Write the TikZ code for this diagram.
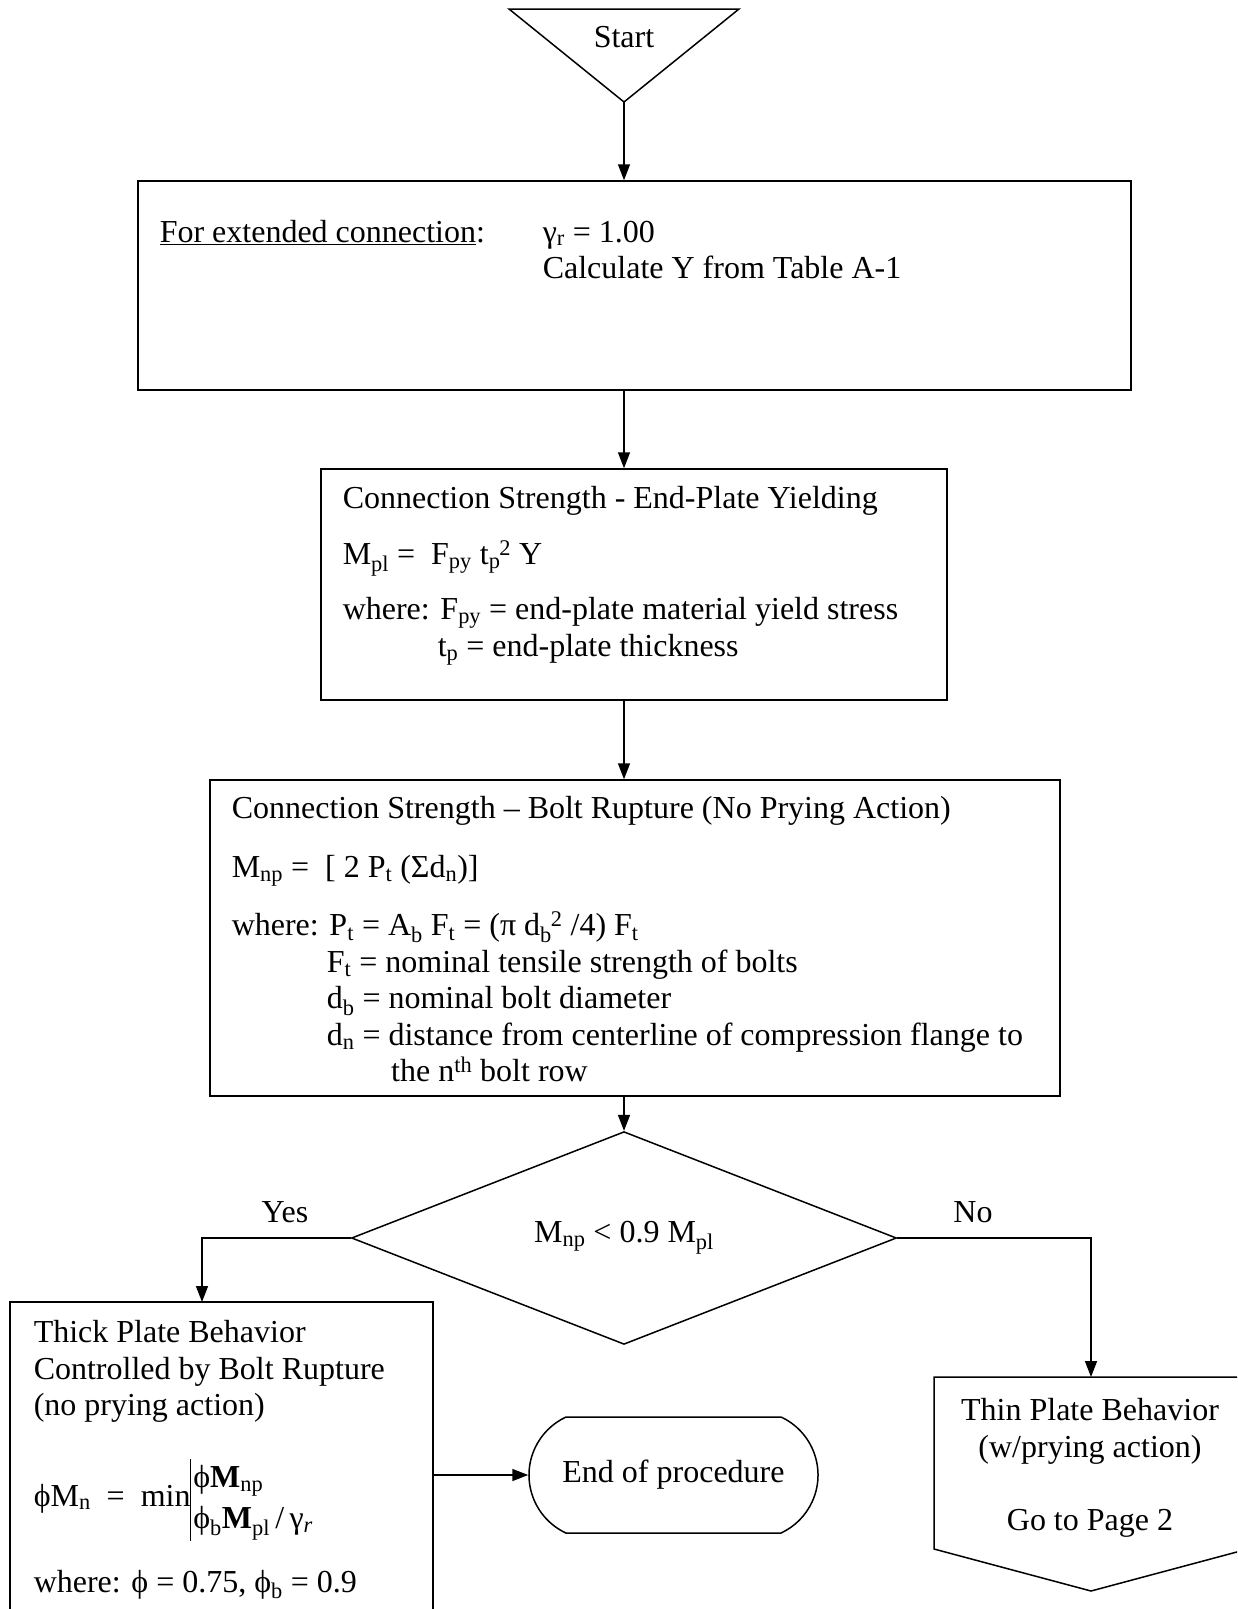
\documentclass[tikz,border=0pt]{standalone}
\usepackage{fontspec}
\setmainfont{Liberation Serif}
\usetikzlibrary{shapes.geometric, shapes.misc, positioning, arrows.meta}
\setlength{\arrayrulewidth}{1.5pt}
\newcommand{\tsubsup}[2]{\textsubscript{#1}\kern-1pt\textsuperscript{#2}}

\begin{document}
\begin{tikzpicture}[
    x=1pt, y=1pt,
    line width=1.5pt,
    font=\fontsize{32}{36.5}\selectfont,
    box/.style={draw, rectangle, inner sep=0pt},
    txt/.style={inner sep=0pt, align=left, anchor=north west},
    decision/.style={draw, diamond, inner sep=0pt, minimum width=545pt, minimum height=190pt},
    terminal/.style={draw, rounded rectangle, rounded rectangle arc length=130, inner sep=0pt, minimum width=289pt, minimum height=116pt},
    arr/.style={-{Triangle[length=16pt, width=12pt]}}
]
    \clip (0,0) rectangle (1237,-1609);

    % Start
    \draw (509,-9) -- (739,-9) -- (624,-102) -- cycle;
    \coordinate (startapex) at (624,-102);
    \node[anchor=base] (start) at (624,-47) {Start};

    % Boxes
    \node[box, minimum width=993pt, minimum height=209pt] (ext) at (634.5,-285.5) {};
    \node[txt] (extlabel) at (159,-220) {\underline{For extended connection}:};
    \node[txt] (extval) at (542,-220) {γ\textsubscript{r} = 1.00\\Calculate Y from Table A-1};

    \node[box, minimum width=626pt, minimum height=231pt] (yield) at (634,-584.5) {};
    \node[txt] (yieldtxt) at (342,-486) {Connection Strength - End-Plate Yielding\\[19pt]
        M\textsubscript{pl} =~ F\textsubscript{py} t\tsubsup{p}{2} Y\\[19pt]
        where: F\textsubscript{py} = end-plate material yield stress\\
        \phantom{where:} t\textsubscript{p} = end-plate thickness};

    \node[box, minimum width=850pt, minimum height=316pt] (rupt) at (635,-938) {};
    \node[txt] (rupttxt) at (231,-796) {Connection Strength – Bolt Rupture (No Prying Action)\\[22pt]
        M\textsubscript{np} =~ [ 2 P\textsubscript{t} (Σd\textsubscript{n})]\\[22pt]
        where: P\textsubscript{t} = A\textsubscript{b} F\textsubscript{t} = (π d\tsubsup{b}{2} /4) F\textsubscript{t}\\
        \phantom{where:} F\textsubscript{t} = nominal tensile strength of bolts\\
        \phantom{where:} d\textsubscript{b} = nominal bolt diameter\\
        \phantom{where:} d\textsubscript{n} = distance from centerline of compression flange to\\
        \phantom{where: d\textsubscript{n} =} the n\textsuperscript{th} bolt row};

    % Decision
    \node[decision] (dec) at (624,-1238) {M\textsubscript{np} < 0.9 M\textsubscript{pl}};
    \node[anchor=base] (yes) at (285,-1222) {Yes};
    \node[anchor=base] (no) at (973,-1222) {No};

    % Thick plate
    \node[box, minimum width=423pt, minimum height=400pt] (thick) at (221.5,-1502) {};
    \node[txt] (thicktxt) at (33,-1320) {Thick Plate Behavior\\Controlled by Bolt Rupture\\(no prying action)};
    \node[anchor=base west, inner sep=0pt] (mineq) at (33,-1506) {ϕM\textsubscript{n} ~=~ min\renewcommand{\arraystretch}{1.12}\begin{tabular}{@{}|@{\hspace{2pt}}l@{}}ϕ\textbf{M}\textsubscript{np}\\ϕ\textsubscript{b}\textbf{M}\textsubscript{pl}\,/\,γ\textsubscript{\itshape r}\end{tabular}};
    \node[anchor=base west, inner sep=0pt] (where) at (33,-1592) {where: ϕ = 0.75, ϕ\textsubscript{b} = 0.9};

    % End
    \node[terminal] (endp) at (673.5,-1475) {End of procedure};

    % Thin plate (off-page)
    \draw (934,-1377) -- (1248,-1377) -- (1248,-1549) -- (1091,-1591) -- (934,-1549) -- cycle;
    \node[anchor=north, inner sep=0pt, align=center] (thin) at (1090,-1398) {Thin Plate Behavior\\(w/prying action)\\[36.5pt]Go to Page 2};

    % Connections
    \coordinate (yesin) at (202,-1302);
    \coordinate (noin) at (1091,-1377);
    \draw[arr] (startapex) -- (startapex |- ext.north);
    \draw[arr] (startapex |- ext.south) -- (startapex |- yield.north);
    \draw[arr] (startapex |- yield.south) -- (startapex |- rupt.north);
    \draw[arr] (startapex |- rupt.south) -- (dec.north);
    \draw[arr] (dec.west) -| (yesin);
    \draw[arr] (dec.east) -| (noin);
    \draw[arr] (thick.east |- endp.west) -- (endp.west);
\end{tikzpicture}
\end{document}
